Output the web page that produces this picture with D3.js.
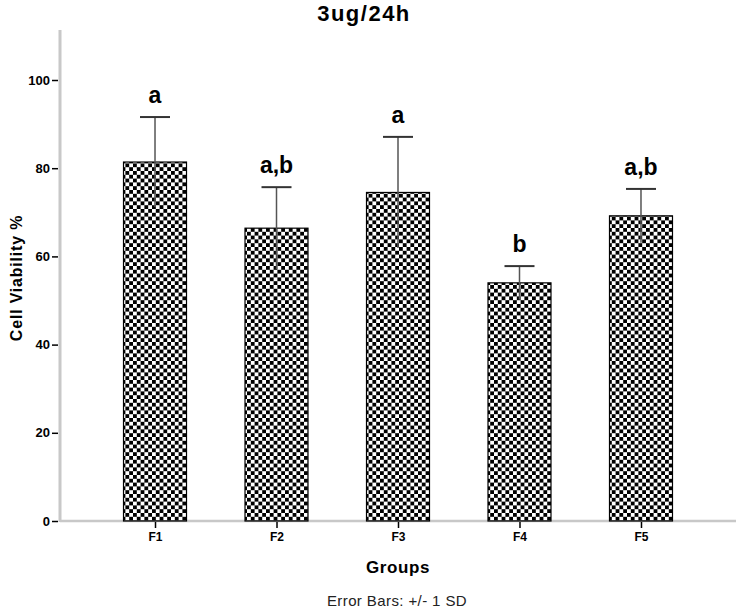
<!DOCTYPE html>
<html><head><meta charset="utf-8">
<script src="https://cdn.jsdelivr.net/npm/d3@7/dist/d3.min.js"></script>
<style>body{margin:0;background:#fff}svg{display:block;font-family:Arial,"Liberation Sans",sans-serif}</style>
</head><body><svg id="c" width="738" height="611"></svg>
<script>
const groups = ["F1","F2","F3","F4","F5"];
const means = [81.4, 66.4, 74.5, 54.0, 69.2];
const sds = [10.2, 9.3, 12.6, 3.8, 6.1];
const letters = ["a","a,b","a","b","a,b"];
const yTicks = [0,20,40,60,80,100];

const svg = d3.select("#c");
const x = d3.scalePoint().domain(groups).range([60,736]).padding(0.782);
const y = d3.scaleLinear().domain([0,100]).range([521,80]);
const barW = 63;

const defs = svg.append("defs");
const pat = defs.append("pattern").attr("id","chk").attr("patternUnits","userSpaceOnUse")
  .attr("width",7.6).attr("height",7.6);
pat.append("rect").attr("width",7.6).attr("height",7.6).attr("fill","#fff");
pat.append("rect").attr("width",3.8).attr("height",3.8).attr("fill","#000");
pat.append("rect").attr("x",3.8).attr("y",3.8).attr("width",3.8).attr("height",3.8).attr("fill","#000");

// axes lines
svg.append("line").attr("x1",60).attr("x2",60).attr("y1",30).attr("y2",522)
  .attr("stroke","#c8c8c8").attr("stroke-width",3);
svg.append("line").attr("x1",60).attr("x2",736).attr("y1",521).attr("y2",521)
  .attr("stroke","#c8c8c8").attr("stroke-width",2.5);

// y axis
const ya = svg.append("g").attr("transform","translate(58,0)")
  .call(d3.axisLeft(y).tickValues(yTicks).tickSize(6).tickPadding(2).tickFormat(d3.format("d")));
ya.select(".domain").remove();
ya.selectAll(".tick line").attr("stroke","#000").attr("stroke-width",1.5);
ya.selectAll(".tick text").attr("font-size",13).attr("font-weight","bold").attr("fill","#000")
  .attr("font-family","Arial, 'Liberation Sans', sans-serif");

// bars
svg.append("g").selectAll("rect").data(groups).join("rect")
  .attr("x",d=>x(d)-barW/2).attr("width",barW)
  .attr("y",(d,i)=>y(means[i])).attr("height",(d,i)=>y(0)-y(means[i]))
  .attr("fill","url(#chk)").attr("stroke","#000").attr("stroke-width",1.2);

// error bars
const eb = svg.append("g").attr("stroke","#333").attr("stroke-width",2);
groups.forEach((g,i)=>{
  const cx = x(g);
  eb.append("line").attr("x1",cx).attr("x2",cx).attr("y1",y(means[i]-sds[i])).attr("y2",y(means[i]+sds[i]))
    .attr("stroke-width",1.5).attr("stroke","#555");
  eb.append("line").attr("x1",cx-15).attr("x2",cx+15).attr("y1",y(means[i]+sds[i])).attr("y2",y(means[i]+sds[i]));
  svg.append("text").attr("x",cx).attr("y",y(means[i]+sds[i])-14).attr("text-anchor","middle")
    .attr("font-size",23).attr("font-weight","bold").text(letters[i]);
});

// x axis
const xa = svg.append("g").attr("transform","translate(0,522)")
  .call(d3.axisBottom(x).tickSize(6).tickPadding(4));
xa.select(".domain").remove();
xa.selectAll(".tick line").attr("stroke","#000").attr("stroke-width",1.5);
xa.selectAll(".tick text").attr("font-size",12).attr("font-weight","bold").attr("fill","#000")
  .attr("font-family","Arial, 'Liberation Sans', sans-serif");

// titles
svg.append("text").attr("x",364).attr("y",21).attr("text-anchor","middle")
  .attr("font-size",22).attr("font-weight","bold").attr("letter-spacing",1.5).text("3ug/24h");
svg.append("text").attr("transform","translate(22,278) rotate(-90)").attr("text-anchor","middle")
  .attr("font-size",16).attr("font-weight","bold").attr("letter-spacing",0.8).text("Cell Viability %");
svg.append("text").attr("x",398).attr("y",573).attr("text-anchor","middle")
  .attr("font-size",17).attr("font-weight","bold").attr("letter-spacing",0.6).text("Groups");
svg.append("text").attr("x",397).attr("y",606).attr("text-anchor","middle")
  .attr("font-size",15).attr("fill","#222").attr("letter-spacing",0.4).text("Error Bars: +/- 1 SD");
</script></body></html>
